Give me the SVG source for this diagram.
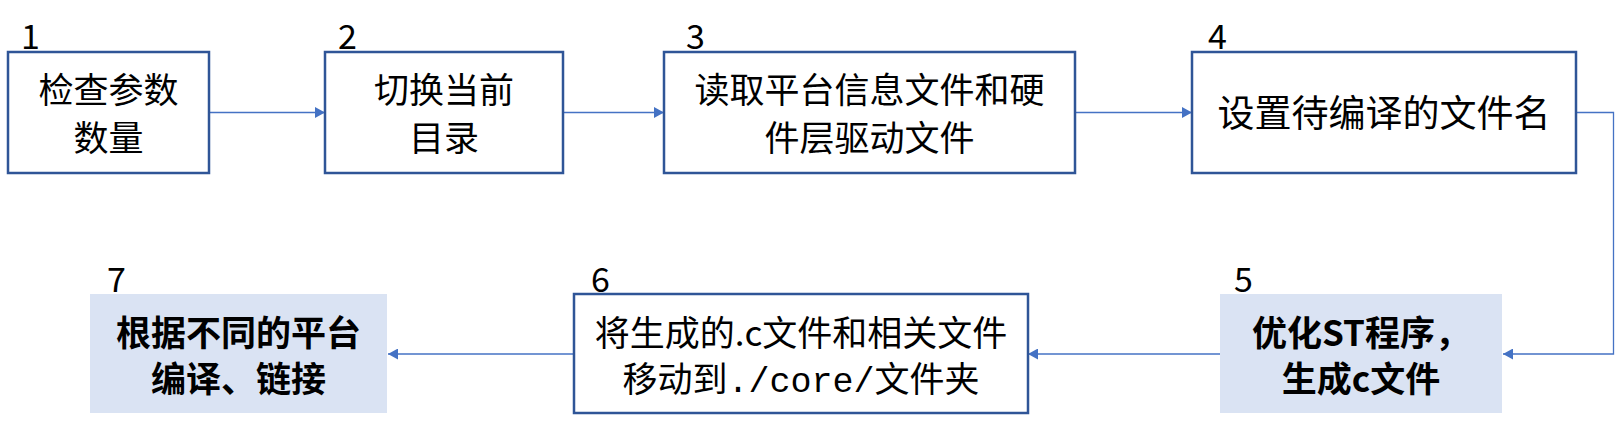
<svg xmlns="http://www.w3.org/2000/svg" width="1615" height="423" viewBox="0 0 1615 423">
<defs>
<marker id="arr" markerUnits="userSpaceOnUse" markerWidth="10" markerHeight="11" refX="10" refY="5.5" orient="auto">
<path d="M0,0 L10,5.5 L0,11 z" fill="#4472C4"/>
</marker>
<style>
.box{fill:#FFFFFF;stroke:#2F5597;stroke-width:2.5}
.hl{fill:#DAE3F3;stroke:none}
.t{font-family:"Noto Sans CJK SC","Noto Sans",sans-serif;font-size:35px;fill:#000;text-anchor:middle}
.b{font-weight:bold}
.n{font-family:"Noto Sans CJK SC","Noto Sans",sans-serif;font-size:34px;fill:#000}
.mono{font-family:"Liberation Mono",monospace}
.c{fill:none;stroke:#4472C4;stroke-width:1.3;marker-end:url(#arr)}
</style>
</defs>
<rect width="1615" height="423" fill="#FFFFFF"/>
<g id="connectors">
<path class="c" d="M209,112.5 H325"/>
<path class="c" d="M563,112.5 H664"/>
<path class="c" d="M1075,112.5 H1192"/>
<path class="c" d="M1576,112.5 H1613.5 V354 H1503"/>
<path class="c" d="M1220,354 H1028"/>
<path class="c" d="M574,354 H388"/>
</g>
<g id="node1">
<rect class="box" x="8" y="52" width="201" height="121"/>
<text class="n" x="21" y="49">1</text>
<text class="t" x="108.5" y="103">检查参数</text>
<text class="t" x="108.5" y="151">数量</text>
</g>
<g id="node2">
<rect class="box" x="325" y="52" width="238" height="121"/>
<text class="n" x="338" y="49">2</text>
<text class="t" x="444" y="103">切换当前</text>
<text class="t" x="444" y="151">目录</text>
</g>
<g id="node3">
<rect class="box" x="664" y="52" width="411" height="121"/>
<text class="n" x="686" y="49">3</text>
<text class="t" x="869.5" y="103">读取平台信息文件和硬</text>
<text class="t" x="869.5" y="151">件层驱动文件</text>
</g>
<g id="node4">
<rect class="box" x="1192" y="52" width="384" height="121"/>
<text class="n" x="1208" y="49">4</text>
<text class="t" x="1384" y="127" style="font-size:37px">设置待编译的文件名</text>
</g>
<g id="node5">
<rect class="hl" x="1220" y="294" width="282" height="119"/>
<text class="n" x="1234" y="292">5</text>
<text class="t b" x="1361" y="346">优化ST程序，</text>
<text class="t b" x="1361" y="392">生成c文件</text>
</g>
<g id="node6">
<rect class="box" x="574" y="294" width="454" height="119"/>
<text class="n" x="591" y="292">6</text>
<text class="t" x="801" y="346">将生成的.c文件和相关文件</text>
<text class="t" x="801" y="392">移动到<tspan class="mono">./core/</tspan>文件夹</text>
</g>
<g id="node7">
<rect class="hl" x="90" y="294" width="297" height="119"/>
<text class="n" x="107" y="292">7</text>
<text class="t b" x="238.5" y="346">根据不同的平台</text>
<text class="t b" x="238.5" y="392">编译、链接</text>
</g>
</svg>
